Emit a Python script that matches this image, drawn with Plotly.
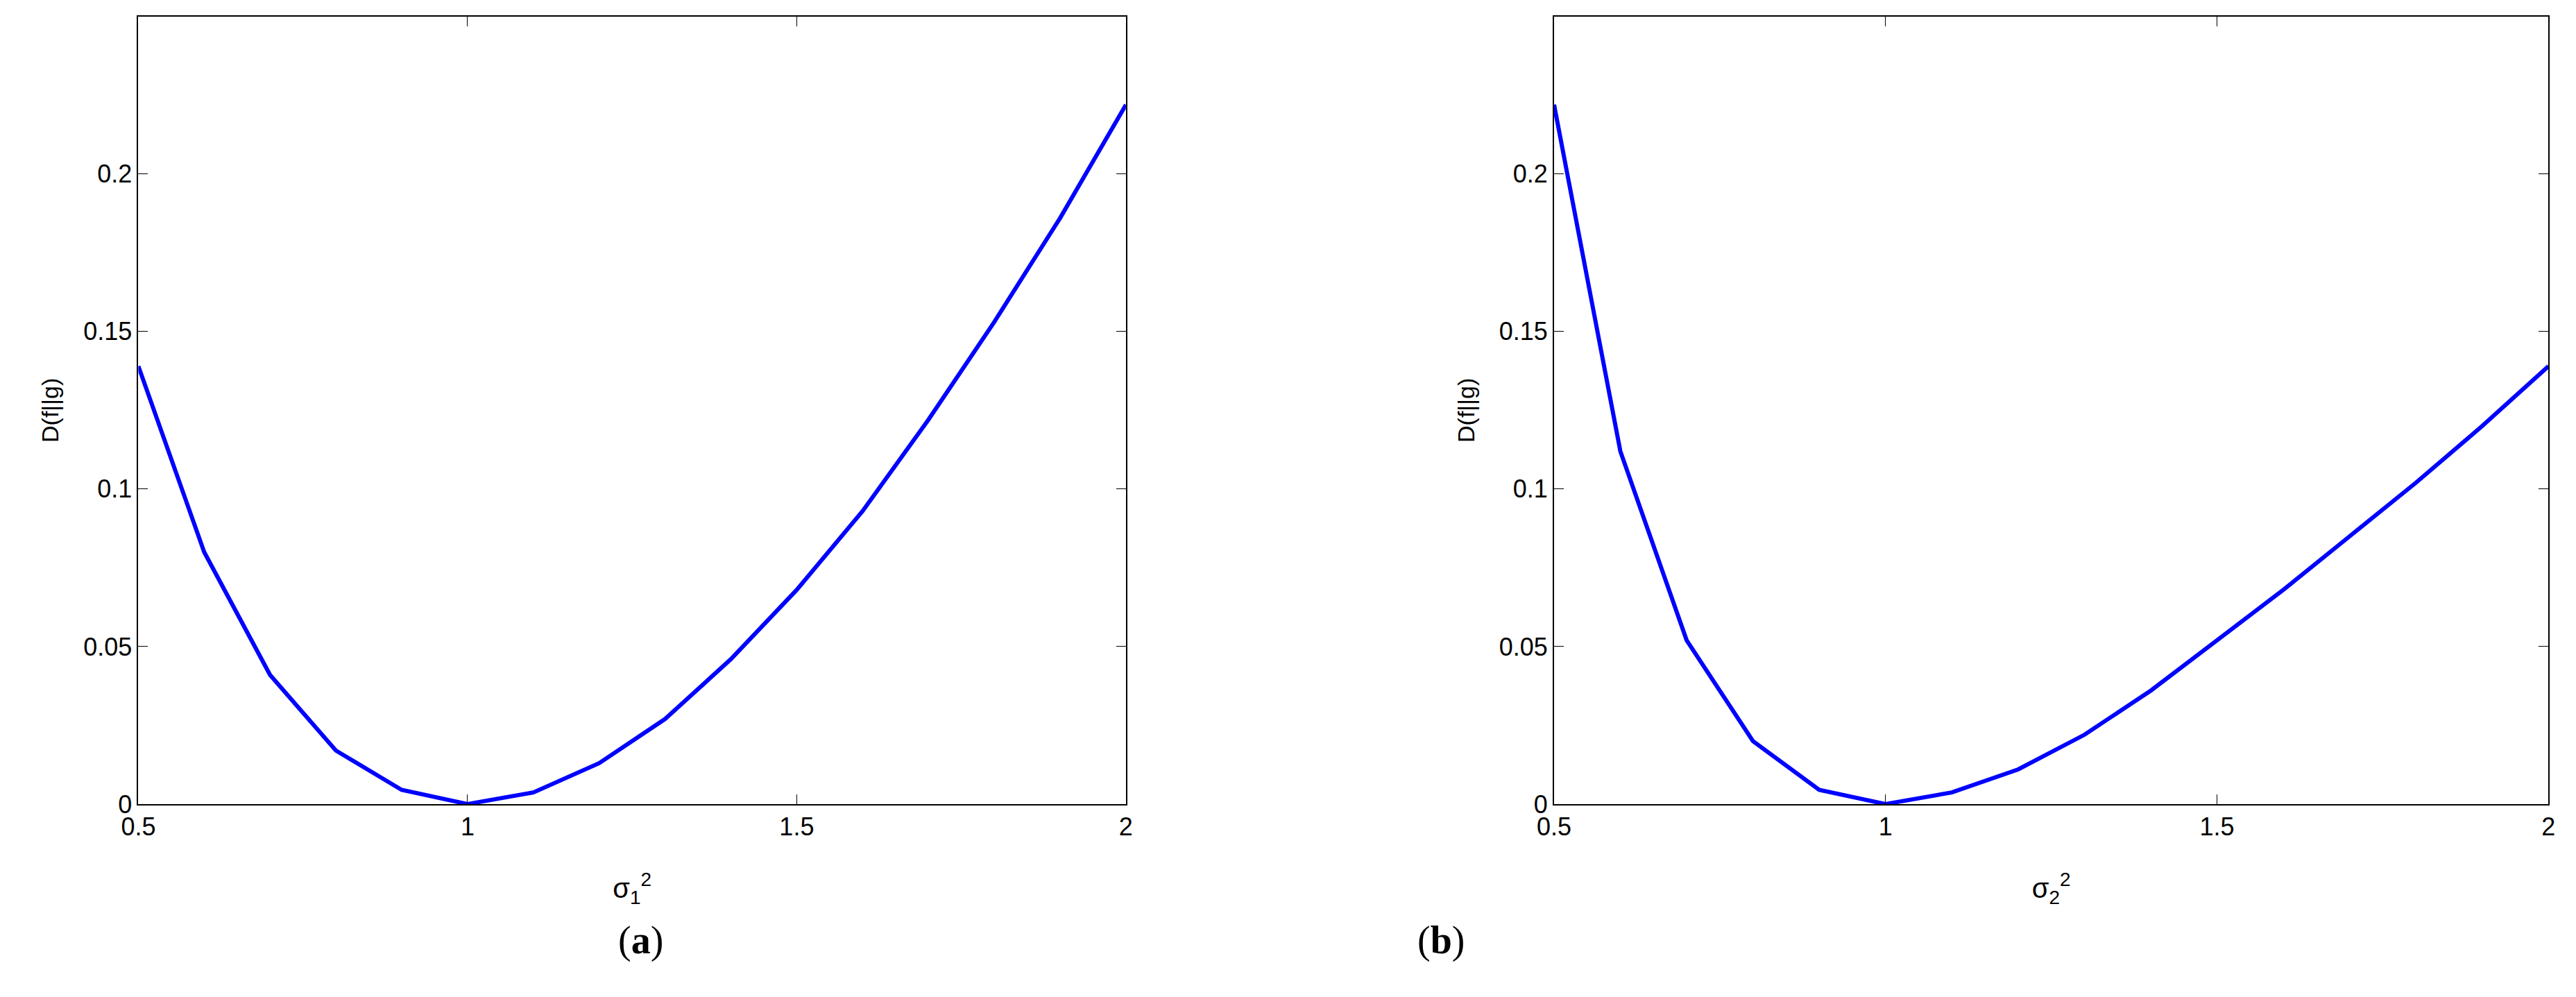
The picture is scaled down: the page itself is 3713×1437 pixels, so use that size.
import plotly.graph_objects as go

x = [0.5,0.6,0.7,0.8,0.9,1.0,1.1,1.2,1.3,1.4,1.5,1.6,1.7,1.8,1.9,2.0]
d_a = [0.139,0.080,0.041,0.017,0.0045,0.0,0.0037,0.013,0.027,0.046,0.068,0.093,0.122,0.153,0.186,0.222]
d_b = [0.222,0.112,0.052,0.020,0.0045,0.0,0.0037,0.011,0.022,0.036,0.052,0.068,0.085,0.102,0.120,0.139]
xticks = [0.5,1,1.5,2]
xticklabels = ["0.5","1","1.5","2"]
yticks = [0,0.05,0.1,0.15,0.2,0.25]
yticklabels = ["0","0.05","0.1","0.15","0.2","0.25"]

W, H = 3713, 1437
fig = go.Figure()
fig.add_trace(go.Scatter(x=x, y=d_a, mode="lines", line=dict(color="#0000FF", width=6), xaxis="x", yaxis="y"))
fig.add_trace(go.Scatter(x=x, y=d_b, mode="lines", line=dict(color="#0000FF", width=6), xaxis="x2", yaxis="y2"))

tickfont = dict(family="Liberation Sans, Arial", size=36, color="black")
ax = dict(showline=True, mirror="ticks", linecolor="black", linewidth=2, ticks="inside", ticklen=14,
          tickcolor="black", showgrid=False, zeroline=False, tickfont=tickfont)
tfont_x = dict(family="Liberation Sans, Arial", size=40, color="black")
tfont_y = dict(family="Liberation Sans, Arial", size=34, color="black")
ydom = [1-1168/H, 1-16/H]
fig.update_layout(
    width=W, height=H, margin=dict(l=0, r=0, t=0, b=0), showlegend=False,
    plot_bgcolor="white", paper_bgcolor="white",
    xaxis=dict(ax, domain=[168/W, 1605/W], range=[0.5, 2], tickvals=xticks, ticktext=xticklabels,
               title=dict(text="σ<sub>1</sub><sup>2</sup>", font=tfont_x, standoff=55), anchor="y"),
    yaxis=dict(ax, domain=ydom, range=[0, 0.25], tickvals=yticks, ticktext=yticklabels,
               title=dict(text="D(f||g)", font=tfont_y, standoff=25), anchor="x"),
    xaxis2=dict(ax, domain=[2228/W, 3675/W], range=[0.5, 2], tickvals=xticks, ticktext=xticklabels,
                title=dict(text="σ<sub>2</sub><sup>2</sup>", font=tfont_x, standoff=55), anchor="y2"),
    yaxis2=dict(ax, domain=ydom, range=[0, 0.25], tickvals=yticks, ticktext=yticklabels,
                title=dict(text="D(f||g)", font=tfont_y, standoff=25), anchor="x2"),
    annotations=[
        dict(text="(<b>a</b>)", x=864/W, y=1-1401/H, xref="paper", yref="paper", showarrow=False,
             font=dict(family="Liberation Serif, Times New Roman", size=56, color="black")),
        dict(text="(<b>b</b>)", x=2063/W, y=1-1401/H, xref="paper", yref="paper", showarrow=False,
             font=dict(family="Liberation Serif, Times New Roman", size=56, color="black")),
    ],
)
fig.write_html("out.html")
